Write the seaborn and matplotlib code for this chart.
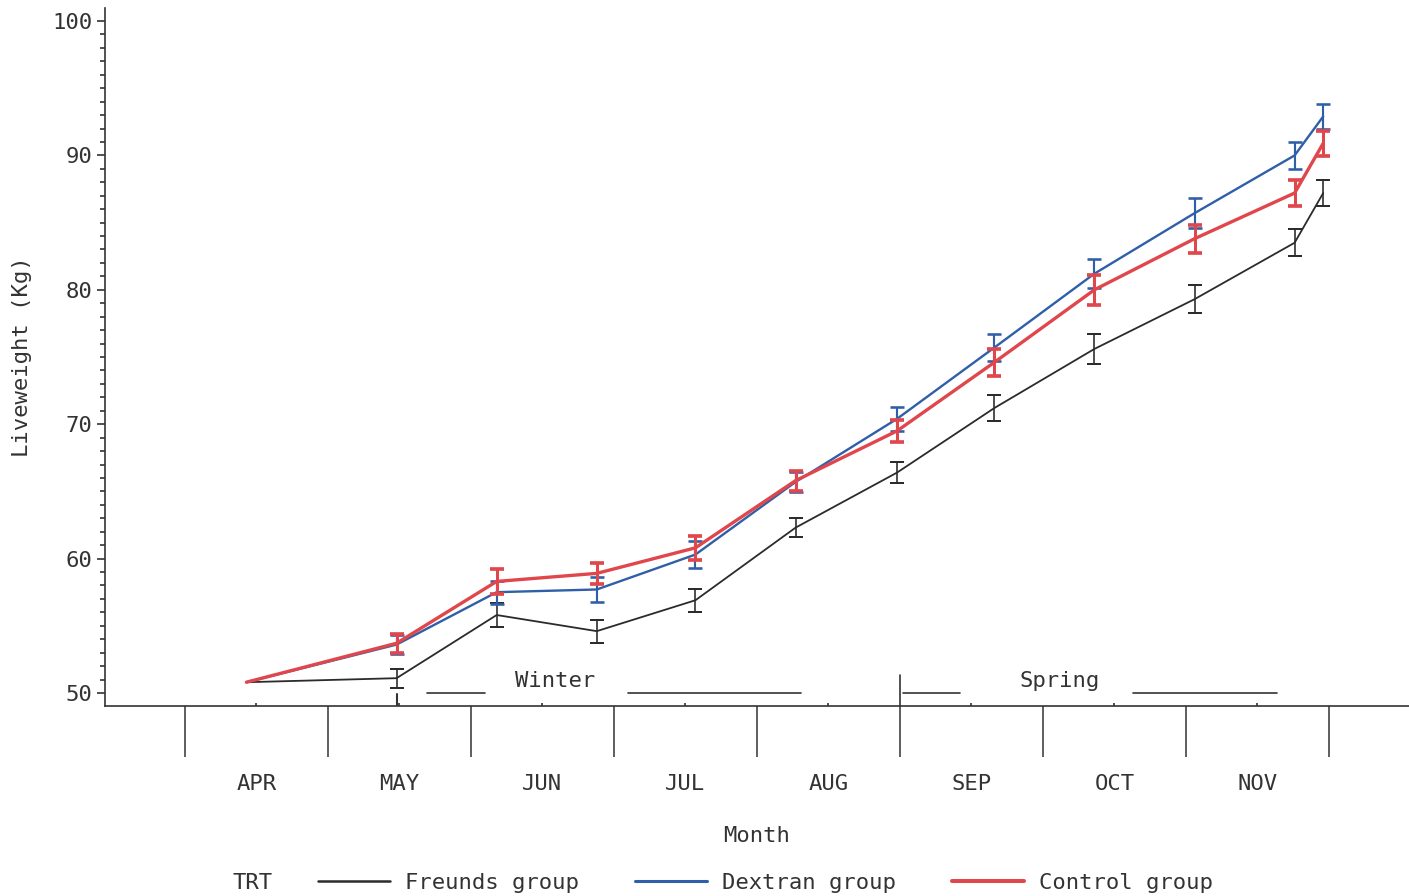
import numpy as np
import pandas as pd
import matplotlib.pyplot as plt
import seaborn as sns
from matplotlib.lines import Line2D

months = ['APR', 'MAY', 'JUN', 'JUL', 'AUG', 'SEP', 'OCT', 'NOV']
# weighing dates, in months counted from 1 April
sample_pos = [0.43, 1.48, 2.18, 2.88, 3.57, 4.27, 4.98, 5.66, 6.36, 7.06, 7.76, 7.96]

freunds = [50.8, 51.1, 55.8, 54.6, 56.9, 62.3, 66.4, 71.2, 75.6, 79.3, 83.5, 87.2]
freunds_se = [0, 0.7, 0.9, 0.85, 0.85, 0.7, 0.8, 0.95, 1.1, 1.05, 1.0, 1.0]
dextran = [50.8, 53.6, 57.5, 57.7, 60.3, 65.7, 70.4, 75.7, 81.2, 85.7, 90.0, 92.9]
dextran_se = [0, 0.7, 0.85, 0.95, 1.0, 0.75, 0.9, 1.0, 1.1, 1.1, 1.0, 0.95]
control = [50.8, 53.7, 58.3, 58.9, 60.8, 65.8, 69.5, 74.6, 80.0, 83.8, 87.2, 90.9]
control_se = [0, 0.7, 0.9, 0.8, 0.9, 0.75, 0.8, 1.0, 1.1, 1.05, 1.0, 0.95]

groups = ['Freunds group', 'Dextran group', 'Control group']
colors = {'Freunds group': '#2b2b2b', 'Dextran group': '#2e5fa8', 'Control group': '#e0474c'}
widths = {'Freunds group': 1.3, 'Dextran group': 1.7, 'Control group': 2.4}

df = pd.DataFrame({
    'month': sample_pos * 3,
    'weight': freunds + dextran + control,
    'se': freunds_se + dextran_se + control_se,
    'TRT': [g for g in groups for _ in sample_pos],
})

sns.set_style('ticks')
plt.rcParams['font.family'] = ['DejaVu Sans Mono']
txt = '#333333'
fs = 16

fig = plt.figure(figsize=(14.09, 8.96), dpi=100)
ax = fig.add_axes([105 / 1409, 190 / 896, 1304 / 1409, 698 / 896])

for g in groups:
    sub = df[df['TRT'] == g]
    sns.lineplot(data=sub, x='month', y='weight', color=colors[g],
                 linewidth=widths[g], ax=ax, legend=False)
    e = sub[sub['se'] > 0]
    ax.errorbar(e['month'], e['weight'], yerr=e['se'], fmt='none',
                ecolor=colors[g], elinewidth=widths[g] * 0.9,
                capsize=5, capthick=widths[g] * 1.1)

# season markers along the base of the plot
ax.plot([1.69, 2.10], [50, 50], color=txt, lw=1.2)
ax.plot([3.10, 4.31], [50, 50], color=txt, lw=1.2)
ax.plot([5.02, 5.42], [50, 50], color=txt, lw=1.2)
ax.plot([6.63, 7.64], [50, 50], color=txt, lw=1.2)
ax.plot([1.48, 1.48], [49.1, 49.9], color=txt, lw=1.5)
ax.plot([5.0, 5.0], [49.0, 51.3], color=txt, lw=1.2)
ax.text(2.59, 50.9, 'Winter', ha='center', va='center', fontsize=fs, color=txt)
ax.text(6.12, 50.9, 'Spring', ha='center', va='center', fontsize=fs, color=txt)

ax.set_xlim(-0.559, 8.56)
ax.set_ylim(49.03, 100.97)
sns.despine(ax=ax)

ax.set_yticks(np.arange(50, 101, 10))
ax.set_yticks(np.arange(50, 101, 1), minor=True)
ax.tick_params(axis='y', which='major', length=6, width=1.2, pad=3,
               labelsize=fs, colors=txt)
ax.tick_params(axis='y', which='minor', length=3.5, width=1.2, colors=txt)

ax.set_xticks(np.arange(0, 9))
ax.set_xticklabels([])
ax.set_xticks(np.arange(0.5, 8), minor=True)
ax.set_xticklabels(months, minor=True)
ax.tick_params(axis='x', which='major', length=37, width=1.1, colors=txt)
ax.tick_params(axis='x', which='minor', length=2, width=1.2, direction='in',
               pad=49, labelsize=fs, colors=txt)

for s in ['left', 'bottom']:
    ax.spines[s].set_color(txt)
    ax.spines[s].set_linewidth(1.2)

ax.set_xlabel('Month', fontsize=fs, color=txt)
ax.xaxis.set_label_coords(0.5, -0.172)
ax.set_ylabel('Liveweight (Kg)', fontsize=fs, color=txt)
ax.yaxis.set_label_coords(-0.056, 0.5)

fig.text(253 / 1409, 1 - 883 / 896, 'TRT', ha='center', va='center',
         fontsize=fs, color=txt)
handles = [Line2D([], [], color=colors[g], lw=widths[g] + 0.5) for g in groups]
fig.legend(handles, groups, ncol=3, loc='center left',
           bbox_to_anchor=(318 / 1409, 1 - 883 / 896), frameon=False,
           fontsize=fs, handlelength=3.25, handletextpad=0.68,
           columnspacing=2.5, borderpad=0, borderaxespad=0, labelcolor=txt)

fig.savefig('out.png', dpi=100, facecolor='white')
